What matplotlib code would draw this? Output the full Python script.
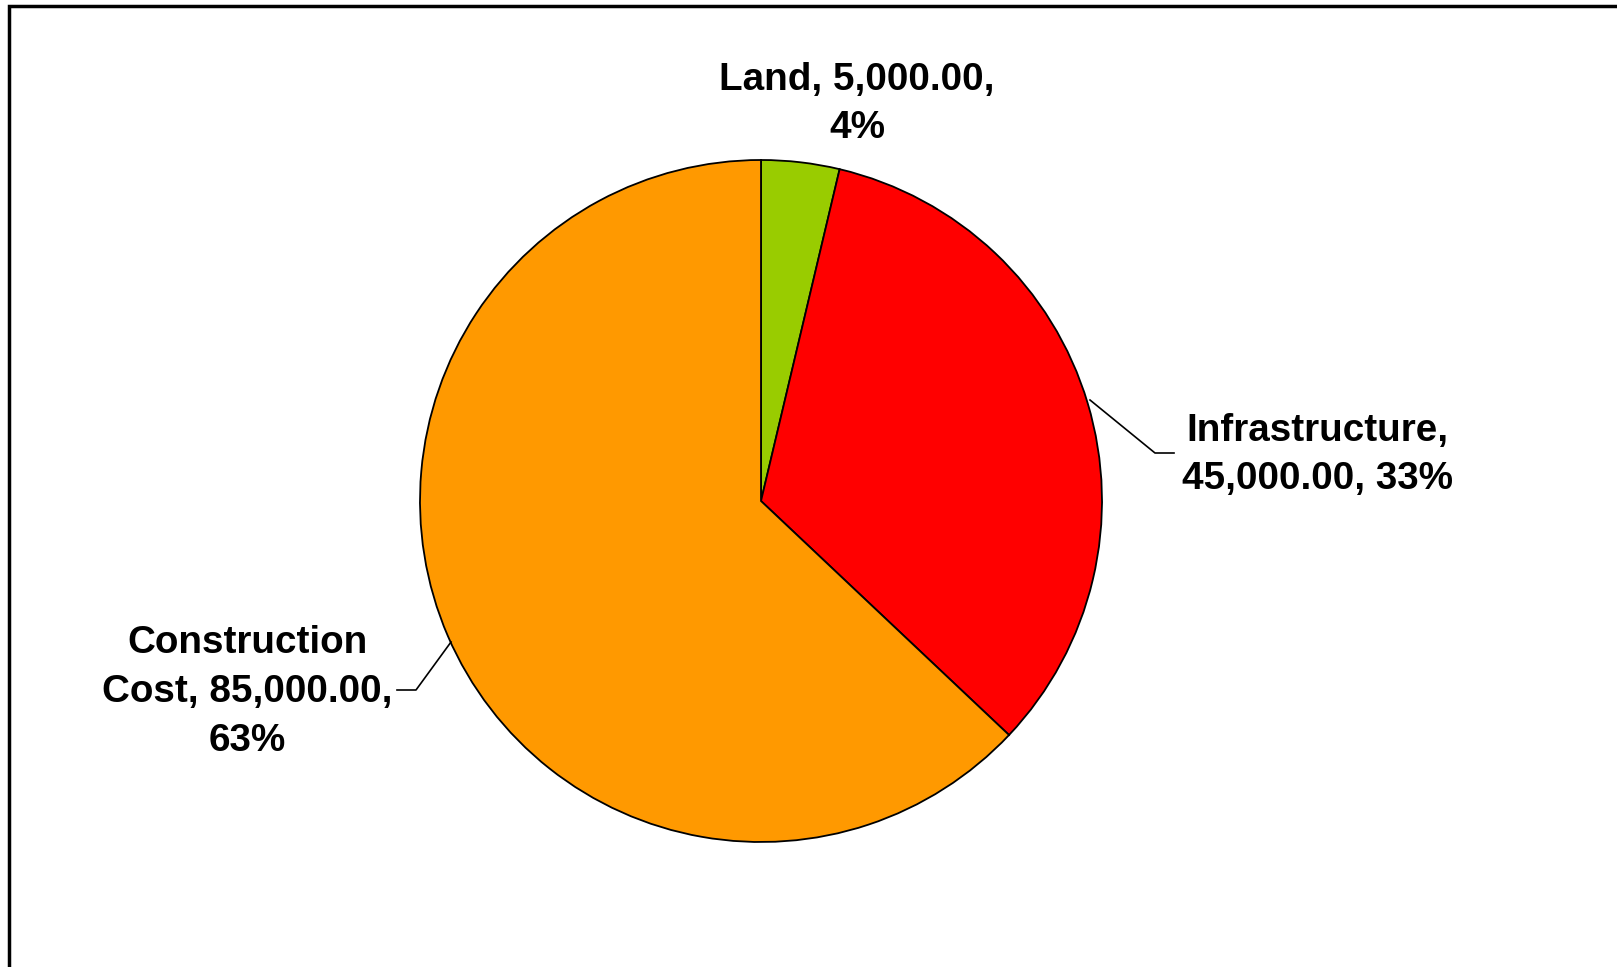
import matplotlib
matplotlib.use("Agg")
import matplotlib.pyplot as plt
from matplotlib.patches import Rectangle

categories = ["Land", "Infrastructure", "Construction Cost"]
values = [5000.00, 45000.00, 85000.00]
colors = ["#99CC00", "#FF0000", "#FF9900"]
label_texts = ["Land, 5,000.00,\n4%",
               "Infrastructure,\n45,000.00, 33%",
               "Construction\nCost, 85,000.00,\n63%"]

W, H = 1617, 967
fig = plt.figure(figsize=(W / 100, H / 100), dpi=100)
ax = fig.add_axes([0, 0, 1, 1])
ax.set_xlim(0, W)
ax.set_ylim(0, H)
ax.set_aspect("equal")
ax.axis("off")

cx, cy, r = 761, H - 501, 341
ax.pie(values, colors=colors, startangle=90, counterclock=False,
       center=(cx, cy), radius=r, frame=True,
       wedgeprops=dict(edgecolor="black", linewidth=1.3))
ax.set_xlim(0, W)
ax.set_ylim(0, H)
ax.axis("off")

# frame
ax.add_patch(Rectangle((8.5, -20), W + 40, H - 5.5 + 20, fill=False,
                       edgecolor="black", linewidth=2.5, clip_on=False))

font = dict(family=["Liberation Sans", "DejaVu Sans"], weight="bold",
            fontsize=27.8)
ls = 1.46
ax.text(857, H - 104, label_texts[0], ha="center", va="center",
        linespacing=ls, **font)
ax.text(1317, H - 455, label_texts[1], ha="center", va="center",
        linespacing=ls, **font)
ax.text(247, H - 692, label_texts[2], ha="center", va="center",
        linespacing=ls, **font)

# leader lines
ax.plot([1090, 1155, 1174], [H - 400, H - 453, H - 453], color="black", lw=1.2)
ax.plot([451, 416, 397], [H - 642, H - 690, H - 690], color="black", lw=1.2)

fig.savefig("out.png", dpi=100)
